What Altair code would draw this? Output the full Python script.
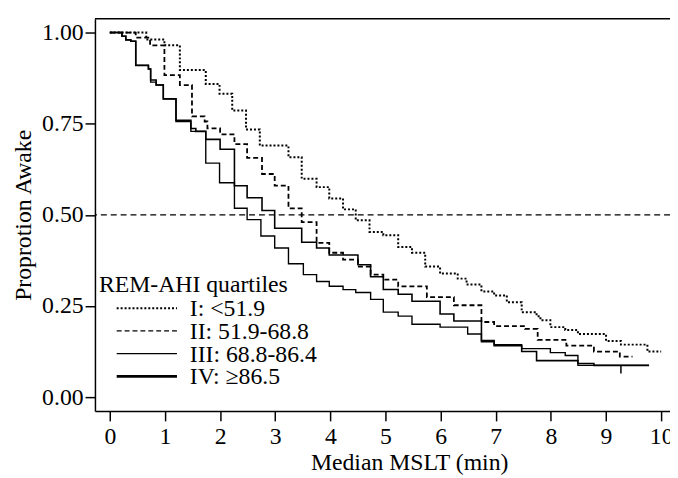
import altair as alt
import pandas as pd

# ---- data ----
series = ["I: <51.9", "II: 51.9-68.8", "III: 68.8-86.4", "IV: \u226586.5"]

t_I = [0, 0.66, 0.99, 1.27, 1.74, 1.99, 2.22, 2.47, 2.72, 3.24, 3.48, 3.75, 3.98, 4.23, 4.46, 4.71,
       4.96, 5.23, 5.48, 5.72, 5.99, 6.31, 6.47, 6.74, 6.97, 7.20, 7.47, 7.74, 7.81, 7.99, 8.26, 8.49,
       9.00, 9.27, 9.75, 10.0]
s_I = [1.0, 0.981, 0.965, 0.897, 0.859, 0.832, 0.786, 0.734, 0.690, 0.658, 0.599, 0.576, 0.545, 0.515,
       0.485, 0.453, 0.444, 0.412, 0.396, 0.358, 0.339, 0.325, 0.309, 0.290, 0.279, 0.260, 0.233, 0.222,
       0.211, 0.192, 0.184, 0.173, 0.154, 0.144, 0.125, 0.125]

t_II = [0, 0.47, 0.73, 0.99, 1.27, 1.49, 1.72, 1.77, 2.00, 2.26, 2.49, 2.76, 2.99, 3.24, 3.48, 3.75,
        3.98, 4.23, 4.50, 4.73, 4.96, 5.23, 5.75, 6.24, 6.74, 6.97, 7.53, 7.76, 8.28, 8.78, 9.25, 9.48]
s_II = [1.0, 0.986, 0.965, 0.883, 0.856, 0.770, 0.756, 0.737, 0.721, 0.694, 0.656, 0.612, 0.580, 0.518,
        0.480, 0.423, 0.396, 0.377, 0.358, 0.336, 0.322, 0.304, 0.274, 0.252, 0.206, 0.195, 0.187, 0.157,
        0.141, 0.125, 0.111, 0.111]

t_III = [0, 0.22, 0.29, 0.38, 0.47, 0.70, 0.74, 0.84, 0.97, 1.20, 1.47, 1.56, 1.74, 2.00, 2.26, 2.49,
         2.76, 2.99, 3.48, 3.75, 3.98, 4.50, 4.73, 4.96, 5.23, 5.48, 5.99, 6.24, 6.74, 6.97, 7.47, 7.74,
         8.49, 8.78, 9.78]
s_III = [1.0, 0.99, 0.98, 0.976, 0.91, 0.90, 0.87, 0.856, 0.818, 0.759, 0.737, 0.729, 0.707, 0.680,
         0.580, 0.547, 0.512, 0.463, 0.425, 0.409, 0.390, 0.363, 0.330, 0.295, 0.282, 0.263, 0.228, 0.209,
         0.155, 0.141, 0.125, 0.100, 0.092, 0.087, 0.087]

t_IV = [0, 0.22, 0.29, 0.38, 0.47, 0.70, 0.74, 0.84, 0.97, 1.20, 1.47, 1.74, 1.99, 2.26, 2.49, 2.74,
        2.99, 3.24, 3.51, 3.75, 3.98, 4.23, 4.46, 4.73, 4.96, 5.23, 5.48, 5.99, 6.49, 6.74, 6.97, 7.47,
        7.99, 8.26, 8.49, 9.78]
s_IV = [1.0, 0.99, 0.98, 0.976, 0.91, 0.90, 0.864, 0.856, 0.818, 0.756, 0.729, 0.642, 0.588, 0.518,
        0.487, 0.442, 0.409, 0.366, 0.336, 0.317, 0.304, 0.295, 0.287, 0.268, 0.233, 0.222, 0.200, 0.192,
        0.173, 0.152, 0.144, 0.133, 0.122, 0.114, 0.087, 0.087]

censor_t = [9.27]
censor_s = [0.087]
censor_len = [0.022]

ref_level = [0.5]
x_ticks = list(range(0, 11))
y_ticks = [0.0, 0.25, 0.5, 0.75, 1.0]

legend_title = "REM-AHI quartiles"

# ---- styles ----
dash_range = [[2, 2], [5, 3], [1, 0], [1, 0]]
width_range = [2.0, 1.4, 1.1, 2.6]
FONT = "Liberation Serif"
W, H = 582, 397

rows = []
for name, ts, ss in zip(series, [t_I, t_II, t_III, t_IV], [s_I, s_II, s_III, s_IV]):
    for i, (t, s) in enumerate(zip(ts, ss)):
        rows.append({"series": name, "t": t, "s": s, "order": i})
df = pd.DataFrame(rows)

xscale = alt.Scale(domain=[-0.27, 10.16], nice=False, zero=False)
yscale = alt.Scale(domain=[-0.038, 1.038], nice=False, zero=False)

base = alt.Chart(df)

lines = base.mark_line(interpolate="step-after", color="black").encode(
    x=alt.X("t:Q", scale=xscale,
            axis=alt.Axis(values=x_ticks, format="d", title="Median MSLT (min)",
                          titleX=318, titleAnchor="middle", titleAlign="center")),
    y=alt.Y("s:Q", scale=yscale,
            axis=alt.Axis(values=y_ticks, format=".2f", title="Proprotion Awake")),
    order="order:Q",
    detail="series:N",
    strokeDash=alt.StrokeDash("series:N", scale=alt.Scale(domain=series, range=dash_range), legend=None),
    strokeWidth=alt.StrokeWidth("series:N", scale=alt.Scale(domain=series, range=width_range), legend=None),
)

ref = alt.Chart(pd.DataFrame({"y": ref_level})).mark_rule(
    color="black", strokeDash=[6, 4], strokeWidth=1.2
).encode(y=alt.Y("y:Q", scale=yscale))

cdf = pd.DataFrame({"t": censor_t, "s": censor_s, "len": censor_len})
censor = alt.Chart(cdf).transform_calculate(s2="datum.s - datum.len").mark_rule(
    color="black", strokeWidth=1.5
).encode(x=alt.X("t:Q", scale=xscale), y=alt.Y("s:Q", scale=yscale), y2="s2:Q")

# top frame line
top = alt.Chart(pd.DataFrame({"y": [1.038]})).mark_rule(color="black", strokeWidth=1.5).encode(
    y=alt.Y("y:Q", scale=yscale)
)

# manual legend (inside plot)
leg_layers = []
leg_layers.append(
    alt.Chart(pd.DataFrame({"label": [legend_title]})).mark_text(
        align="left", baseline="alphabetic", font=FONT, fontSize=24, color="black"
    ).encode(text="label:N", x=alt.value(4), y=alt.value(277))
)
for i, (name, dash, w) in enumerate(zip(series, dash_range, width_range)):
    yy = 293 + 23 * i
    d = pd.DataFrame({"label": [name]})
    leg_layers.append(
        alt.Chart(d).mark_rule(color="black", strokeDash=dash, strokeWidth=w).encode(
            x=alt.value(22), x2=alt.value(83), y=alt.value(yy)
        )
    )
    leg_layers.append(
        alt.Chart(d).mark_text(align="left", baseline="middle", font=FONT, fontSize=24,
                               color="black").encode(
            text="label:N", x=alt.value(96), y=alt.value(yy + 1)
        )
    )

chart = alt.layer(ref, lines, censor, top, *leg_layers).properties(
    width=W, height=H,
    autosize=alt.AutoSizeParams(type="none"),
    padding={"left": 88, "top": 8, "right": 0, "bottom": 64},
).configure_view(stroke=None).configure_axis(
    labelFont=FONT, titleFont=FONT, labelFontSize=24, titleFontSize=24,
    titleFontWeight="normal", labelColor="black", titleColor="black",
    domainColor="black", tickColor="black", domainWidth=1.5, tickWidth=1.5,
    tickSize=10, grid=False,
).configure_axisY(labelPadding=2, titlePadding=6).configure_axisX(labelPadding=4, titlePadding=2)

chart.save("out.html", embed_options={"renderer": "svg", "actions": False})
